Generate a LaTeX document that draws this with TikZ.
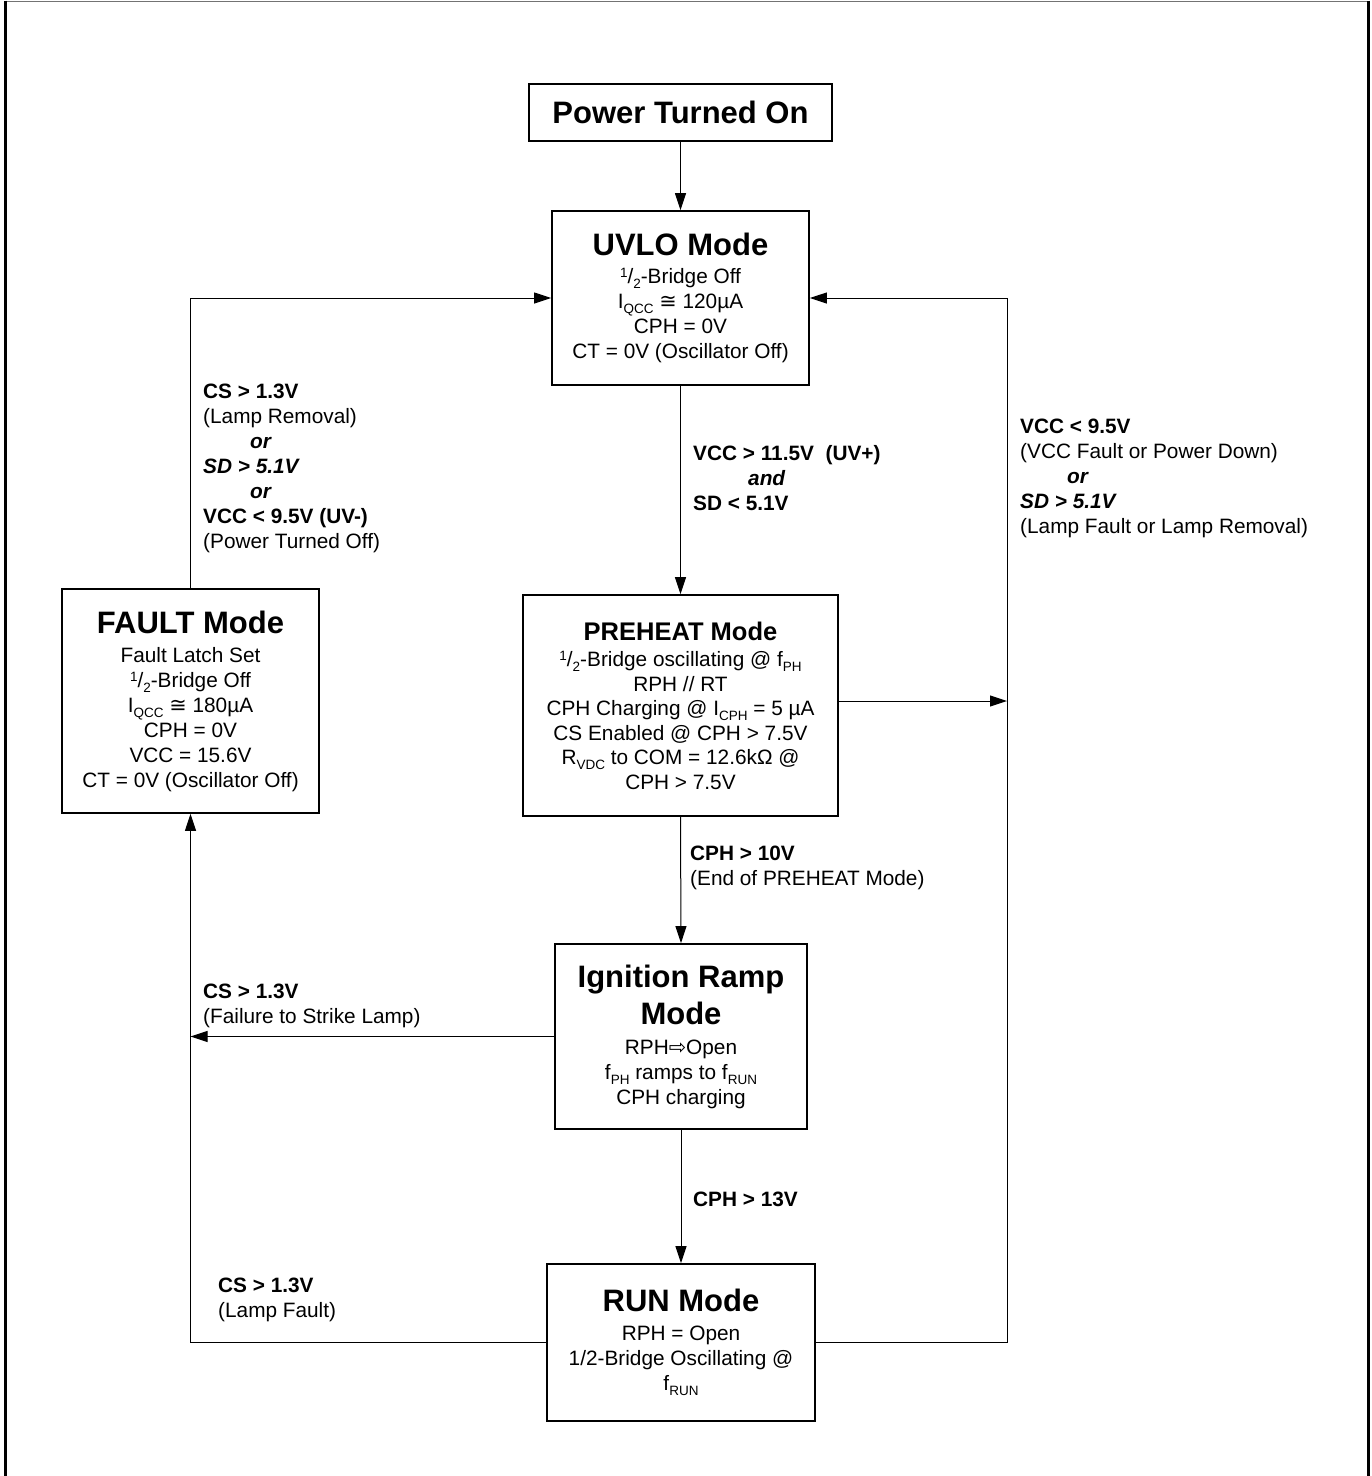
\documentclass[tikz,border=0pt]{standalone}
\usepackage{fontspec}
\setmainfont{Liberation Sans}
\newfontfamily\dejavu{DejaVu Sans}
\usetikzlibrary{arrows.meta}
\newcommand{\sbs}[1]{\raisebox{-0.45ex}{\fontsize{13.5}{13.5}\selectfont #1}}
\newcommand{\half}{\raisebox{0.55ex}{\fontsize{13.5}{13.5}\selectfont 1}/\sbs{2}}
\newcommand{\apx}{{\dejavu ≅}}
\newcommand{\ttl}{\fontsize{31}{36}\selectfont\bfseries}
\newcommand{\ttlb}{\fontsize{25.5}{30}\selectfont\bfseries}
\begin{document}
\begin{tikzpicture}[x=1pt,y=-1pt,
 box/.style={draw, line width=1.8pt, inner sep=0pt, align=center, font=\fontsize{20.8}{25}\selectfont},
 lbl/.style={anchor=north west, inner sep=0pt, align=left, font=\fontsize{20.8}{25}\selectfont},
 arr/.style={line width=1pt, -{Triangle[length=17pt,width=11pt]}},
 ln/.style={line width=1pt}]
\useasboundingbox (0,0) rectangle (1372,1476);
% frame
\draw[line width=1.5pt, black!55] (5,1.5) -- (1368,1.5);
\draw[line width=3pt] (5,0.5) -- (5,1476);
\draw[line width=3pt] (1368,0.5) -- (1368,1476);

\node[box, minimum width=303pt, minimum height=57pt] (power) at (680.5,112.5) {\ttl Power Turned On};
\node[box, minimum width=257pt, minimum height=174pt] (uvlo) at (680.5,298)
 {{\ttl UVLO Mode}\\[3pt] \half-Bridge Off\\ I\sbs{QCC} \apx{} 120µA\\ CPH = 0V\\ CT = 0V (Oscillator Off)};
\node[box, minimum width=315pt, minimum height=221pt, font=\fontsize{20.8}{24.5}\selectfont] (preheat) at (680.5,705.5)
 {{\ttlb PREHEAT Mode}\\[2pt] \half-Bridge oscillating @ f\sbs{PH}\\ RPH // RT\\ CPH Charging @ I\sbs{CPH} = 5 µA\\ CS Enabled @ CPH > 7.5V\\ R\sbs{VDC} to COM = 12.6kΩ @\\ CPH > 7.5V};
\node[box, minimum width=257pt, minimum height=224pt] (fault) at (190.5,701)
 {{\ttl FAULT Mode}\\[4pt] Fault Latch Set\\ \half-Bridge Off\\ I\sbs{QCC} \apx{} 180µA\\ CPH = 0V\\ VCC = 15.6V\\ CT = 0V (Oscillator Off)};
\node[box, minimum width=252pt, minimum height=185pt] (ign) at (681,1036.5)
 {{\ttl Ignition Ramp}\\[7pt]{\ttl Mode}\\[5pt] RPH{\dejavu ⇨}Open\\ f\sbs{PH} ramps to f\sbs{RUN}\\ CPH charging};
\node[box, minimum width=268pt, minimum height=157pt] (run) at (681,1342.5)
 {{\ttl RUN Mode}\\[4pt] RPH = Open\\ 1/2-Bridge Oscillating @\\ f\sbs{RUN}};

% labels
\node[lbl] (lA) at (203,384) {\textbf{CS > 1.3V}\\ (Lamp Removal)\\ \hspace*{47pt}\textbf{\textit{or}}\\ \textbf{\textit{SD > 5.1V}}\\ \hspace*{47pt}\textbf{\textit{or}}\\ \textbf{VCC < 9.5V (UV-)}\\ (Power Turned Off)};
\node[lbl] (lB) at (693,445) {\textbf{VCC > 11.5V\ \ (UV+)}\\ \hspace*{55pt}\textbf{\textit{and}}\\ \textbf{SD < 5.1V}};
\node[lbl] (lC) at (1020,419) {\textbf{VCC < 9.5V}\\ (VCC Fault or Power Down)\\ \hspace*{47pt}\textbf{\textit{or}}\\ \textbf{\textit{SD > 5.1V}}\\ (Lamp Fault or Lamp Removal)};
\node[lbl] (lD) at (690,846) {\textbf{CPH > 10V}\\ (End of PREHEAT Mode)};
\node[lbl] (lE) at (203,984) {\textbf{CS > 1.3V}\\ (Failure to Strike Lamp)};
\node[lbl] (lF) at (693,1192) {\textbf{CPH > 13V}};
\node[lbl] (lG) at (218,1278) {\textbf{CS > 1.3V}\\ (Lamp Fault)};

% connectors
\coordinate (rc) at (1007,298);
\draw[arr] (power.south) -- (uvlo.north);
\draw[arr] (uvlo.south) -- (preheat.north);
\draw[arr] (preheat.south) -- (ign.north);
\draw[arr] (ign.south) -- (run.north);
\draw[arr] (fault.north) |- (uvlo.west);
\draw[arr] (run.east) -| (rc) -- (uvlo.east);
\draw[arr] ([yshift=4.5pt]preheat.east) -- ([yshift=4.5pt]preheat.east -| rc);
\draw[arr] (ign.west) -- (ign.west -| fault.south);
\draw[arr] (run.west) -| (fault.south);
\end{tikzpicture}
\end{document}
